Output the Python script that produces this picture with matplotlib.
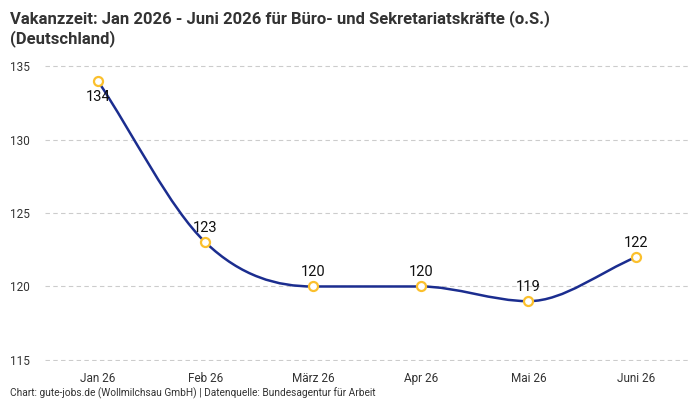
import matplotlib
matplotlib.use('Agg')
import matplotlib.pyplot as plt
from matplotlib.path import Path
from matplotlib.patches import PathPatch
import numpy as np

# Daten
monate = ['Jan 26', 'Feb 26', 'März 26', 'Apr 26', 'Mai 26', 'Juni 26']
vakanzzeit = [134, 123, 120, 120, 119, 122]

plt.rcParams['font.family'] = ['Roboto', 'DejaVu Sans']

linie = '#1b2d8f'
gelb = '#fbc02d'
text_farbe = '#333333'


def monotone_pfad(x, y):
    # monotone kubische Kurve (Chart.js "monotone") als Bezier-Pfad
    x = np.asarray(x, float)
    y = np.asarray(y, float)
    n = len(x)
    d = np.diff(y) / np.diff(x)
    m = np.zeros(n)
    m[0] = d[0]
    m[-1] = d[-1]
    for i in range(1, n - 1):
        if np.sign(d[i - 1]) != np.sign(d[i]):
            m[i] = 0
        else:
            m[i] = (d[i - 1] + d[i]) / 2
    for i in range(n - 1):
        if abs(d[i]) < 1e-9:
            m[i] = m[i + 1] = 0
            continue
        a = m[i] / d[i]
        b = m[i + 1] / d[i]
        q = a * a + b * b
        if q <= 9:
            continue
        tau = 3 / np.sqrt(q)
        m[i] = a * tau * d[i]
        m[i + 1] = b * tau * d[i]
    verts = [(x[0], y[0])]
    codes = [Path.MOVETO]
    for i in range(n - 1):
        dx = (x[i + 1] - x[i]) / 3
        verts += [(x[i] + dx, y[i] + dx * m[i]),
                  (x[i + 1] - dx, y[i + 1] - dx * m[i + 1]),
                  (x[i + 1], y[i + 1])]
        codes += [Path.CURVE4] * 3
    return Path(verts, codes)


fig = plt.figure(figsize=(7, 4), dpi=100)
ax = fig.add_axes([45 / 700, 39 / 400, 645 / 700, 296 / 400])

xs = np.arange(len(monate))
ax.add_patch(PathPatch(monotone_pfad(xs, vakanzzeit), facecolor='none',
                       edgecolor=linie, lw=1.8, zorder=3))
ax.plot(xs, vakanzzeit, linestyle='none', marker='o', ms=6.5,
        markerfacecolor='white', markeredgecolor=gelb, markeredgewidth=1.6, zorder=4)

for i, v in enumerate(vakanzzeit):
    dy = -11.5 if i == 0 else 10.5
    ax.annotate(str(v), (xs[i], v), xytext=(0, dy), textcoords='offset points',
                ha='center', va='center', fontsize=10.5, color='#111111', zorder=5)

ax.set_xlim(-0.49, 5.5)
ax.set_ylim(114.93, 135.07)
ax.set_yticks([115, 120, 125, 130, 135])
ax.set_xticks(xs)
ax.set_xticklabels(monate)
ax.grid(axis='y', color='#cccccc', linestyle=(0, (4, 3)), linewidth=0.8)
ax.set_axisbelow(True)
for sp in ax.spines.values():
    sp.set_visible(False)
ax.tick_params(length=0, labelsize=8.5, colors=text_farbe)
ax.tick_params(axis='y', pad=11)
ax.tick_params(axis='x', pad=8)

fig.text(10 / 700, 1 - 10 / 400, 'Vakanzzeit: Jan 2026 - Juni 2026 für Büro- und Sekretariatskräfte (o.S.)\n(Deutschland)',
         ha='left', va='top', fontsize=12, fontweight='bold', color=text_farbe, linespacing=1.2)
fig.text(10 / 700, 1 - 393 / 400, 'Chart: gute-jobs.de (Wollmilchsau GmbH) | Datenquelle: Bundesagentur für Arbeit',
         ha='left', va='center', fontsize=7.3, color=text_farbe)

fig.savefig('out.png', dpi=100)
